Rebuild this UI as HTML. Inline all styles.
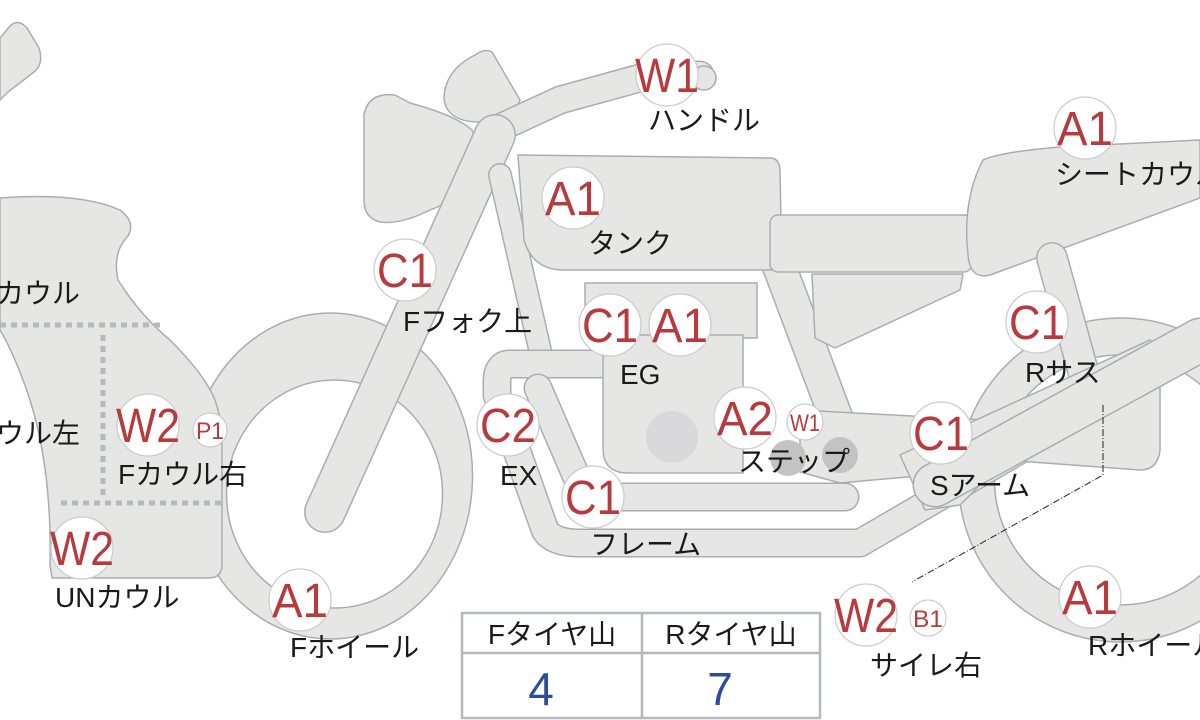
<!DOCTYPE html>
<html><head><meta charset="utf-8"><style>
html,body{margin:0;padding:0;background:#fff;}
svg{display:block;}
.s{fill:#e6e6e4;stroke:#a9adb2;stroke-width:1.5;stroke-linejoin:round;}
.to{fill:none;stroke:#a9adb2;stroke-linecap:round;stroke-linejoin:round;}
.ti{fill:none;stroke:#e6e6e4;stroke-linecap:round;stroke-linejoin:round;}
.b{fill:#fff;stroke:#c9cbcd;stroke-width:1.2;}
.bt{fill:#b83a3c;font-family:"Liberation Sans",sans-serif;font-size:48px;text-anchor:middle;}
.st{fill:#b83a3c;font-family:"Liberation Sans",sans-serif;font-size:24px;text-anchor:middle;}
.l{fill:#1a1a1a;font-family:"Liberation Sans","Noto Sans CJK JP",sans-serif;font-size:28px;}
</style></head><body>
<svg width="1200" height="720" viewBox="0 0 1200 720" xmlns="http://www.w3.org/2000/svg">
<!-- rear wheel -->
<path class="s" fill-rule="evenodd" d="M1120,318 A162,162 0 1,0 1121,318 Z M1120,355 A125,125 0 1,1 1119,355 Z"/>
<!-- front wheel -->
<path class="s" fill-rule="evenodd" d="M330,313 A142,163 0 1,0 331,313 Z M335,380 A108,114 0 1,1 334,380 Z"/>
<!-- top-left blob -->
<path class="s" d="M0,38 L10,26 Q18,18 27,28 L39,48 Q44,64 34,72 L8,92 L0,100 Z"/>
<!-- front cowl -->
<path class="s" d="M0,198 Q80,192 120,210 Q136,222 128,236 Q112,252 118,280 Q140,315 170,340 Q205,375 215,400 Q222,420 222,440 L222,565 Q222,578 208,578 L52,578 L50,565 Q52,470 30,400 Q15,355 0,330 Z"/>
<path d="M0,325 L165,325 M103,335 L103,500 M61,503 L224,503" fill="none" stroke="#b6b9bd" stroke-width="5" stroke-dasharray="6,5"/>
<!-- headlamp & meter -->
<path class="s" d="M364,115 Q368,92 395,95 L410,103 Q455,115 472,130 Q482,150 476,170 Q470,195 430,210 Q400,225 380,222 Q364,218 364,200 Z"/>
<path class="s" d="M444,98 Q445,70 475,55 Q485,48 492,52 L520,100 Q515,118 480,122 Q446,122 444,98 Z"/>
<!-- handlebar -->
<path class="to" stroke-width="29" d="M495,130 L560,100 L640,78 L700,75"/>
<path class="ti" stroke-width="26" d="M495,130 L560,100 L640,78 L700,75"/>
<circle class="s" cx="704" cy="78" r="12"/>
<!-- fork -->
<path class="to" stroke-width="42" d="M325,512 L495,135"/>
<path class="ti" stroke-width="39" d="M325,512 L495,135"/>
<!-- downtube -->
<path class="to" stroke-width="24" d="M500,175 L540,350"/>
<path class="ti" stroke-width="21" d="M500,175 L540,350"/>
<!-- rear frame tube -->
<path class="to" stroke-width="35" d="M775,255 L852,460"/>
<path class="ti" stroke-width="32" d="M775,255 L852,460"/>
<!-- exhaust / lower frame -->
<path class="to" stroke-width="29" d="M600,364 L510,364 Q497,364 497,382 L497,395 L545,530 Q553,543 580,543 L860,543 L1200,345"/>
<path class="ti" stroke-width="26" d="M600,364 L510,364 Q497,364 497,382 L497,395 L545,530 Q553,543 580,543 L860,543 L1200,345"/>
<path class="to" stroke-width="29" d="M538,388 L580,485 Q586,497 605,497 L845,497"/>
<path class="ti" stroke-width="26" d="M538,388 L580,485 Q586,497 605,497 L845,497"/>
<!-- tank -->
<path class="s" d="M518,155 L770,158 Q780,158 780,172 L782,270 L560,270 Q532,268 524,240 Z"/>
<!-- seat -->
<rect class="s" x="770" y="215" width="202" height="57" rx="8"/>
<!-- side panel -->
<path class="s" d="M812,274 L963,274 L960,290 L835,348 L815,338 Z"/>
<!-- seat cowl -->
<path class="s" d="M983,160 Q1000,152 1060,147 L1200,140 L1200,198 L990,275 Q970,280 968,255 Q962,200 983,160 Z"/>
<!-- rear suspension -->
<path class="to" stroke-width="32" d="M1052,258 L1085,378"/>
<path class="ti" stroke-width="29" d="M1052,258 L1085,378"/>
<!-- engine -->
<rect class="s" x="585" y="283" width="172" height="55"/>
<path class="s" d="M603,335 L743,335 L743,473 L628,473 Q603,473 603,448 Z"/>
<circle cx="672" cy="437" r="26" fill="#d9d9db"/>
<!-- step bar -->
<path class="s" d="M800,410 L985,420 L985,470 L840,483 L800,472 Z"/>
<circle cx="788" cy="458" r="18" fill="#c3c3c3"/>
<circle cx="840" cy="455" r="18" fill="#c3c3c3"/>
<!-- swing arm -->
<path class="s" d="M900,455 L1150,340 Q1160,345 1160,360 L1160,450 Q1158,470 1140,470 L1005,460 L960,505 L925,510 Z"/>
<path class="to" stroke-width="45" d="M935,485 L1200,340"/>
<path class="ti" stroke-width="42" d="M935,485 L1200,340"/>
<!-- dashed pointer -->
<path d="M1103,405 L1103,475 L912,582" fill="none" stroke="#222" stroke-width="1" stroke-dasharray="7,2,1,2"/>
<!-- badges -->
<g>
<circle class="b" cx="667" cy="75" r="31"/><text class="bt" x="667" y="92" textLength="64" lengthAdjust="spacingAndGlyphs">W1</text>
<circle class="b" cx="1085" cy="128" r="31"/><text class="bt" x="1085" y="145" textLength="56" lengthAdjust="spacingAndGlyphs">A1</text>
<circle class="b" cx="573" cy="198" r="31"/><text class="bt" x="573" y="215" textLength="56" lengthAdjust="spacingAndGlyphs">A1</text>
<circle class="b" cx="405" cy="270" r="31"/><text class="bt" x="405" y="287" textLength="56" lengthAdjust="spacingAndGlyphs">C1</text>
<circle class="b" cx="610" cy="325" r="31"/><text class="bt" x="610" y="342" textLength="56" lengthAdjust="spacingAndGlyphs">C1</text>
<circle class="b" cx="680" cy="325" r="31"/><text class="bt" x="680" y="342" textLength="56" lengthAdjust="spacingAndGlyphs">A1</text>
<circle class="b" cx="1037" cy="322" r="31"/><text class="bt" x="1037" y="339" textLength="56" lengthAdjust="spacingAndGlyphs">C1</text>
<circle class="b" cx="148" cy="425" r="31"/><text class="bt" x="148" y="442" textLength="64" lengthAdjust="spacingAndGlyphs">W2</text>
<circle class="b" cx="210" cy="430" r="17"/><text class="st" x="210" y="439" textLength="28" lengthAdjust="spacingAndGlyphs">P1</text>
<circle class="b" cx="508" cy="425" r="31"/><text class="bt" x="508" y="442" textLength="56" lengthAdjust="spacingAndGlyphs">C2</text>
<circle class="b" cx="745" cy="418" r="31"/><text class="bt" x="745" y="435" textLength="56" lengthAdjust="spacingAndGlyphs">A2</text>
<circle class="b" cx="805" cy="422" r="18"/><text class="st" x="805" y="431" textLength="30" lengthAdjust="spacingAndGlyphs">W1</text>
<circle class="b" cx="941" cy="433" r="31"/><text class="bt" x="941" y="450" textLength="56" lengthAdjust="spacingAndGlyphs">C1</text>
<circle class="b" cx="593" cy="497" r="31"/><text class="bt" x="593" y="514" textLength="56" lengthAdjust="spacingAndGlyphs">C1</text>
<circle class="b" cx="82" cy="548" r="31"/><text class="bt" x="82" y="565" textLength="64" lengthAdjust="spacingAndGlyphs">W2</text>
<circle class="b" cx="300" cy="600" r="31"/><text class="bt" x="300" y="617" textLength="56" lengthAdjust="spacingAndGlyphs">A1</text>
<circle class="b" cx="866" cy="615" r="31"/><text class="bt" x="866" y="632" textLength="64" lengthAdjust="spacingAndGlyphs">W2</text>
<circle class="b" cx="928" cy="618" r="18"/><text class="st" x="928" y="627" textLength="30" lengthAdjust="spacingAndGlyphs">B1</text>
<circle class="b" cx="1090" cy="597" r="31"/><text class="bt" x="1090" y="614" textLength="56" lengthAdjust="spacingAndGlyphs">A1</text>
</g>
<!-- labels -->
<text class="l" x="648" y="130">ハンドル</text>
<text class="l" x="1055" y="184">シートカウル</text>
<text class="l" x="588" y="253">タンク</text>
<text class="l" x="-4" y="303">カウル</text>
<text class="l" x="403" y="331">Fフォク上</text>
<text class="l" x="620" y="384">EG</text>
<text class="l" x="1025" y="382">Rサス</text>
<text class="l" x="-4" y="443">ウル左</text>
<text class="l" x="118" y="484">Fカウル右</text>
<text class="l" x="500" y="485">EX</text>
<text class="l" x="738" y="471">ステップ</text>
<text class="l" x="930" y="495">Sアーム</text>
<text class="l" x="590" y="554">フレーム</text>
<text class="l" x="55" y="607">UNカウル</text>
<text class="l" x="290" y="657">Fホイール</text>
<text class="l" x="870" y="675">サイレ右</text>
<text class="l" x="1088" y="655">Rホイール</text>
<!-- table -->
<rect x="462" y="613" width="358" height="105" fill="#fff" stroke="#b5b8bc" stroke-width="2.5"/>
<line x1="462" y1="653" x2="820" y2="653" stroke="#b5b8bc" stroke-width="2.5"/>
<line x1="642" y1="613" x2="642" y2="718" stroke="#b5b8bc" stroke-width="2.5"/>
<text class="l" x="552" y="644" text-anchor="middle">Fタイヤ山</text>
<text class="l" x="731" y="644" text-anchor="middle">Rタイヤ山</text>
<text x="541" y="705" fill="#2d4c9a" font-family="Liberation Sans,sans-serif" font-size="46" text-anchor="middle">4</text>
<text x="720" y="705" fill="#2d4c9a" font-family="Liberation Sans,sans-serif" font-size="46" text-anchor="middle">7</text>
</svg>
</body></html>
